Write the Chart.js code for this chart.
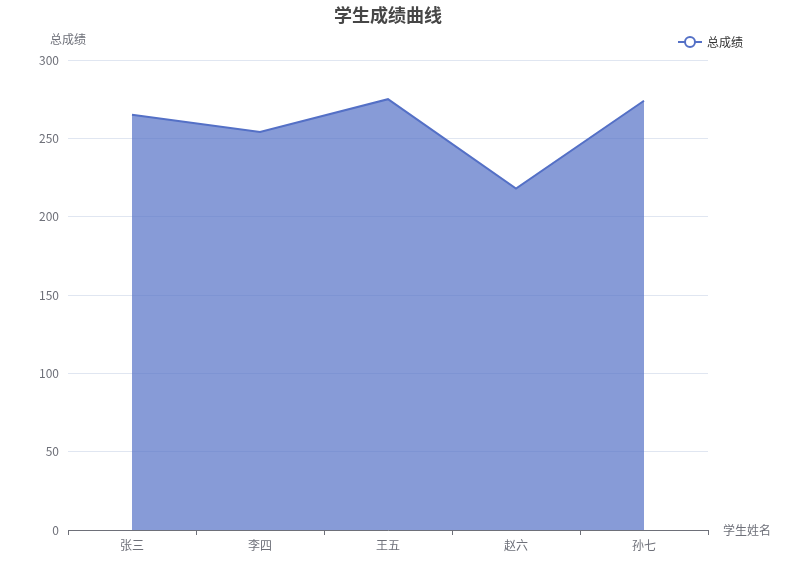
<!DOCTYPE html>
<html>
<head>
<meta charset="utf-8">
<script src="https://cdn.jsdelivr.net/npm/chart.js@4/dist/chart.umd.min.js"></script>
<style>
  html, body { margin: 0; padding: 0; background: #fff; }
  #wrap { width: 786px; height: 574px; }
</style>
</head>
<body>
<div id="wrap"><canvas id="chart"></canvas></div>
<script>
const students = ['张三', '李四', '王五', '赵六', '孙七'];
const totalScores = [265, 254, 275, 218, 274];
const seriesName = '总成绩';
const chartTitle = '学生成绩曲线';
const xAxisName = '学生姓名';
const yAxisName = '总成绩';

const FONT = '"Noto Sans CJK SC", "Noto Sans", sans-serif';
const LINE = '#5470c6';
const AXIS = '#6E7079';

// title, legend and axis names, drawn the echarts way
const decorations = {
	id: 'decorations',
	afterDraw(chart) {
		const ctx = chart.ctx;
		const area = chart.chartArea;
		ctx.save();
		ctx.textBaseline = 'middle';

		ctx.fillStyle = '#464646';
		ctx.font = 'bold 18px ' + FONT;
		ctx.textAlign = 'center';
		ctx.fillText(chartTitle, (area.left + area.right) / 2, 15);

		ctx.fillStyle = AXIS;
		ctx.font = '12px ' + FONT;
		ctx.fillText(yAxisName, area.left, 39);
		ctx.textAlign = 'left';
		ctx.fillText(xAxisName, area.right + 15, area.bottom);

		// legend icon: line with hollow circle
		const lx = 678, ly = 42;
		ctx.strokeStyle = LINE;
		ctx.lineWidth = 2;
		ctx.beginPath();
		ctx.moveTo(lx, ly);
		ctx.lineTo(lx + 24, ly);
		ctx.stroke();
		ctx.beginPath();
		ctx.arc(lx + 12, ly, 5, 0, Math.PI * 2);
		ctx.fillStyle = '#fff';
		ctx.fill();
		ctx.stroke();
		ctx.fillStyle = '#333';
		ctx.fillText(seriesName, lx + 29, ly);
		ctx.restore();
	}
};

new Chart(document.getElementById('chart'), {
	type: 'line',
	data: {
		labels: students,
		datasets: [{
			label: seriesName,
			data: totalScores,
			borderColor: LINE,
			borderWidth: 2,
			backgroundColor: 'rgba(84,112,198,0.7)',
			fill: 'origin',
			tension: 0,
			pointRadius: 0,
			pointHoverRadius: 0
		}]
	},
	options: {
		responsive: true,
		maintainAspectRatio: false,
		animation: false,
		layout: { padding: { top: 60, right: 78, left: 0, bottom: 0 } },
		plugins: {
			legend: { display: false },
			title: { display: false },
			tooltip: { enabled: false }
		},
		scales: {
			x: {
				offset: true,
				afterFit(scale) { scale.height = 44; },
				border: { display: true, color: AXIS, width: 1 },
				grid: {
					offset: true,
					drawOnChartArea: false,
					drawTicks: true,
					tickLength: 5,
					color: AXIS
				},
				ticks: { color: AXIS, padding: 3, font: { size: 12, family: FONT } }
			},
			y: {
				min: 0,
				max: 300,
				afterFit(scale) { scale.width = 68; },
				border: { display: false },
				grid: { color: '#E0E6F1', drawTicks: false },
				ticks: { stepSize: 50, color: AXIS, padding: 9, font: { size: 12, family: FONT } }
			}
		}
	},
	plugins: [decorations]
});
</script>
</body>
</html>
